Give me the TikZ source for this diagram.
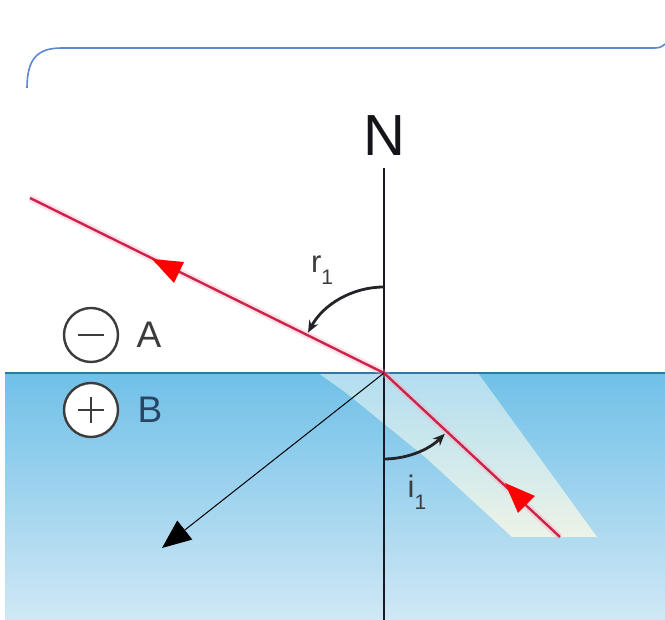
\documentclass[tikz,border=0pt]{standalone}
\usepackage{fontspec}
\setmainfont{Liberation Sans}
\usetikzlibrary{arrows.meta,calc}
\definecolor{watertop}{RGB}{112,192,232}
\definecolor{waterbot}{RGB}{208,232,245}
\definecolor{beamtop}{RGB}{190,228,242}
\definecolor{beambot}{RGB}{248,248,230}
\definecolor{surfcol}{RGB}{50,118,165}
\definecolor{raycol}{RGB}{205,35,75}
\definecolor{glowcol}{RGB}{250,170,190}
\definecolor{framecol}{RGB}{95,135,205}
\definecolor{symcol}{RGB}{60,60,60}
\definecolor{bcol}{RGB}{40,70,100}
\definecolor{arrowred}{RGB}{255,0,0}
\tikzset{
  normalline/.style={draw={rgb,255:red,25;green,25;blue,35}, line width=1.7pt},
  raystyle/.style={draw=raycol, line width=2.4pt},
  glowstyle/.style={draw=glowcol, line width=7pt, opacity=0.35},
  anglearc/.style={draw={rgb,255:red,35;green,35;blue,40}, line width=2.8pt, -{Stealth[length=12pt,width=10pt]}},
  signcircle/.style={circle, draw=symcol, line width=2.4pt, minimum size=54pt, inner sep=0pt, fill=white},
  signline/.style={draw=symcol, line width=2.4pt},
  bigfont/.style={font=\fontsize{58}{58}\selectfont},
  medfont/.style={font=\fontsize{37}{37}\selectfont},
  anglefont/.style={font=\fontsize{31}{31}\selectfont, text=symcol}
}
\begin{document}
\begin{tikzpicture}[x=1pt,y=1pt]
\useasboundingbox (0,0) rectangle (665,620);
\fill[white] (0,0) rectangle (665,620);
% water
\shade[top color=watertop,bottom color=waterbot] (5,0) rectangle (665,247);
% light beam
\shade[top color=beamtop,bottom color=beambot,opacity=0.85] (318,247) -- (478,247) -- (597,83) -- (512,83) -- (425,163) -- (345,228) -- cycle;
% interface
\draw[surfcol,line width=1.6pt] (5,247) -- (665,247);
% frame line
\draw[framecol,line width=1.6pt] (27,532) .. controls (27,562) and (38,572) .. (62,572) -- (655,572) .. controls (660,572) and (663,574) .. (665,576);
% coordinates
\coordinate (O) at (384,247);
\coordinate (S) at (30,422);
\coordinate (E) at (560,83);
\coordinate (T) at (162,72);
\coordinate (Ntop) at (384,452);
\coordinate (Nbot) at (384,0);
% normal
\node[bigfont, text={rgb,255:red,20;green,20;blue,25}] (N) at (384,484) {N};
\draw[normalline] (Ntop) -- (Nbot);
% rays
\draw[glowstyle] (S) -- (O) -- (E);
\draw[raystyle] (S) -- (O) -- (E);
\fill[arrowred] (152,361) -- (184,358) -- (174,337) -- cycle;
\fill[arrowred] (505,137) -- (535,124) -- (518,107) -- cycle;
% reflected (black) arrow
\draw[line width=1pt, -{Triangle[length=29pt,width=24pt]}] (O) -- (T);
% angle arcs
\draw[anglearc] ($(O)+(90:86)$) arc[start angle=90,end angle=152,radius=86];
\draw[anglearc] ($(O)+(-90:86)$) arc[start angle=-90,end angle=-45,radius=86];
\node[anglefont] (r1) at (322,350) {r\raisebox{-0.38em}{\fontsize{21}{21}\selectfont 1}};
\node[anglefont] (i1) at (417,128) {i\raisebox{-0.38em}{\fontsize{21}{21}\selectfont 1}};
% signs and media labels
\node[signcircle] (minus) at (91,285) {};
\draw[signline] ($(minus.center)+(-13,0)$) -- ($(minus.center)+(13,0)$);
\node[medfont, text=symcol] (A) at (149,285) {A};
\node[signcircle] (plus) at (91,210) {};
\draw[signline] ($(plus.center)+(-13,0)$) -- ($(plus.center)+(13,0)$);
\draw[signline] ($(plus.center)+(0,-13)$) -- ($(plus.center)+(0,13)$);
\node[medfont, text=bcol] (B) at (150,210) {B};
\end{tikzpicture}
\end{document}
